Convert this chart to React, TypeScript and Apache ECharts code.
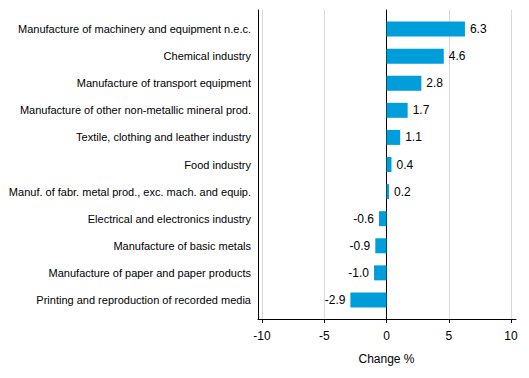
import React, { useEffect, useRef } from "react";
import * as echarts from "echarts";

const categories = [
  "Manufacture of machinery and equipment n.e.c.",
  "Chemical industry",
  "Manufacture of transport equipment",
  "Manufacture of other non-metallic mineral prod.",
  "Textile, clothing and leather industry",
  "Food industry",
  "Manuf. of fabr. metal prod., exc. mach. and equip.",
  "Electrical and electronics industry",
  "Manufacture of basic metals",
  "Manufacture of paper and paper products",
  "Printing and reproduction of recorded media",
];
const values = [6.3, 4.6, 2.8, 1.7, 1.1, 0.4, 0.2, -0.6, -0.9, -1.0, -2.9];
const xMin = -10;
const xMax = 10;
const xStep = 5;
const axisTitle = "Change %";

const FONT = "Arial, 'Liberation Sans', sans-serif";
const BLUE = "#009ddb";

export default function App() {
  const ref = useRef<HTMLDivElement>(null);
  useEffect(() => {
    if (!ref.current) return;
    const chart = echarts.init(ref.current, undefined, { renderer: "svg" });
    chart.setOption({
      animation: false,
      textStyle: { fontFamily: FONT },
      grid: [
        { left: 262, right: 18, top: 15.5, bottom: 64.5, containLabel: false, outerBoundsMode: "none" },
        { left: 262, right: 18, top: 10, bottom: 59, containLabel: false, outerBoundsMode: "none" },
        { left: 258, right: 13, top: 10, bottom: 59, containLabel: false, outerBoundsMode: "none" },
      ],
      xAxis: [
        { gridIndex: 0, type: "value", min: xMin, max: xMax, interval: xStep, show: false },
        {
          gridIndex: 1,
          type: "value",
          min: xMin,
          max: xMax,
          interval: xStep,
          axisLine: { show: false },
          axisTick: { show: true, length: 4, lineStyle: { color: "#000" } },
          axisLabel: { color: "#000", fontSize: 12, fontFamily: FONT, margin: 11 },
          splitLine: { show: true, lineStyle: { color: "#d9d9d9", width: 1 } },
          name: axisTitle,
          nameLocation: "middle",
          nameGap: 34,
          nameTextStyle: { color: "#000", fontSize: 12, fontFamily: FONT },
        },
        {
          gridIndex: 2,
          type: "value",
          min: 0,
          max: 1,
          axisLine: { show: true, onZero: false, lineStyle: { color: "#000", width: 1 } },
          axisTick: { show: false },
          axisLabel: { show: false },
          splitLine: { show: false },
        },
      ],
      yAxis: [
        {
          gridIndex: 0,
          type: "category",
          inverse: true,
          data: categories,
          axisLine: { show: false },
          axisTick: { show: false },
          axisLabel: { color: "#000", fontSize: 11, fontFamily: FONT, margin: 11 },
        },
        {
          gridIndex: 1,
          type: "value",
          min: 0,
          max: 1,
          axisLine: { show: true, onZero: true, lineStyle: { color: "#000", width: 1 } },
          axisTick: { show: false },
          axisLabel: { show: false },
          splitLine: { show: false },
        },
        {
          gridIndex: 2,
          type: "value",
          min: 0,
          max: 1,
          axisLine: { show: true, onZero: false, lineStyle: { color: "#000", width: 1 } },
          axisTick: { show: false },
          axisLabel: { show: false },
          splitLine: { show: false },
        },
      ],
      series: [
        {
          type: "bar",
          xAxisIndex: 0,
          yAxisIndex: 0,
          barWidth: 15,
          data: values.map((v) => ({
            value: v,
            itemStyle: { color: BLUE },
            label: {
              show: true,
              position: v >= 0 ? "right" : "left",
              distance: 5,
              color: "#000",
              fontSize: 12,
              fontFamily: FONT,
              formatter: () => v.toFixed(1),
            },
          })),
        },
      ],
    });
    return () => chart.dispose();
  }, []);
  return (
    <div
      ref={ref}
      style={{ position: "fixed", left: 0, top: 0, width: 529, height: 378, background: "#fff" }}
    />
  );
}
